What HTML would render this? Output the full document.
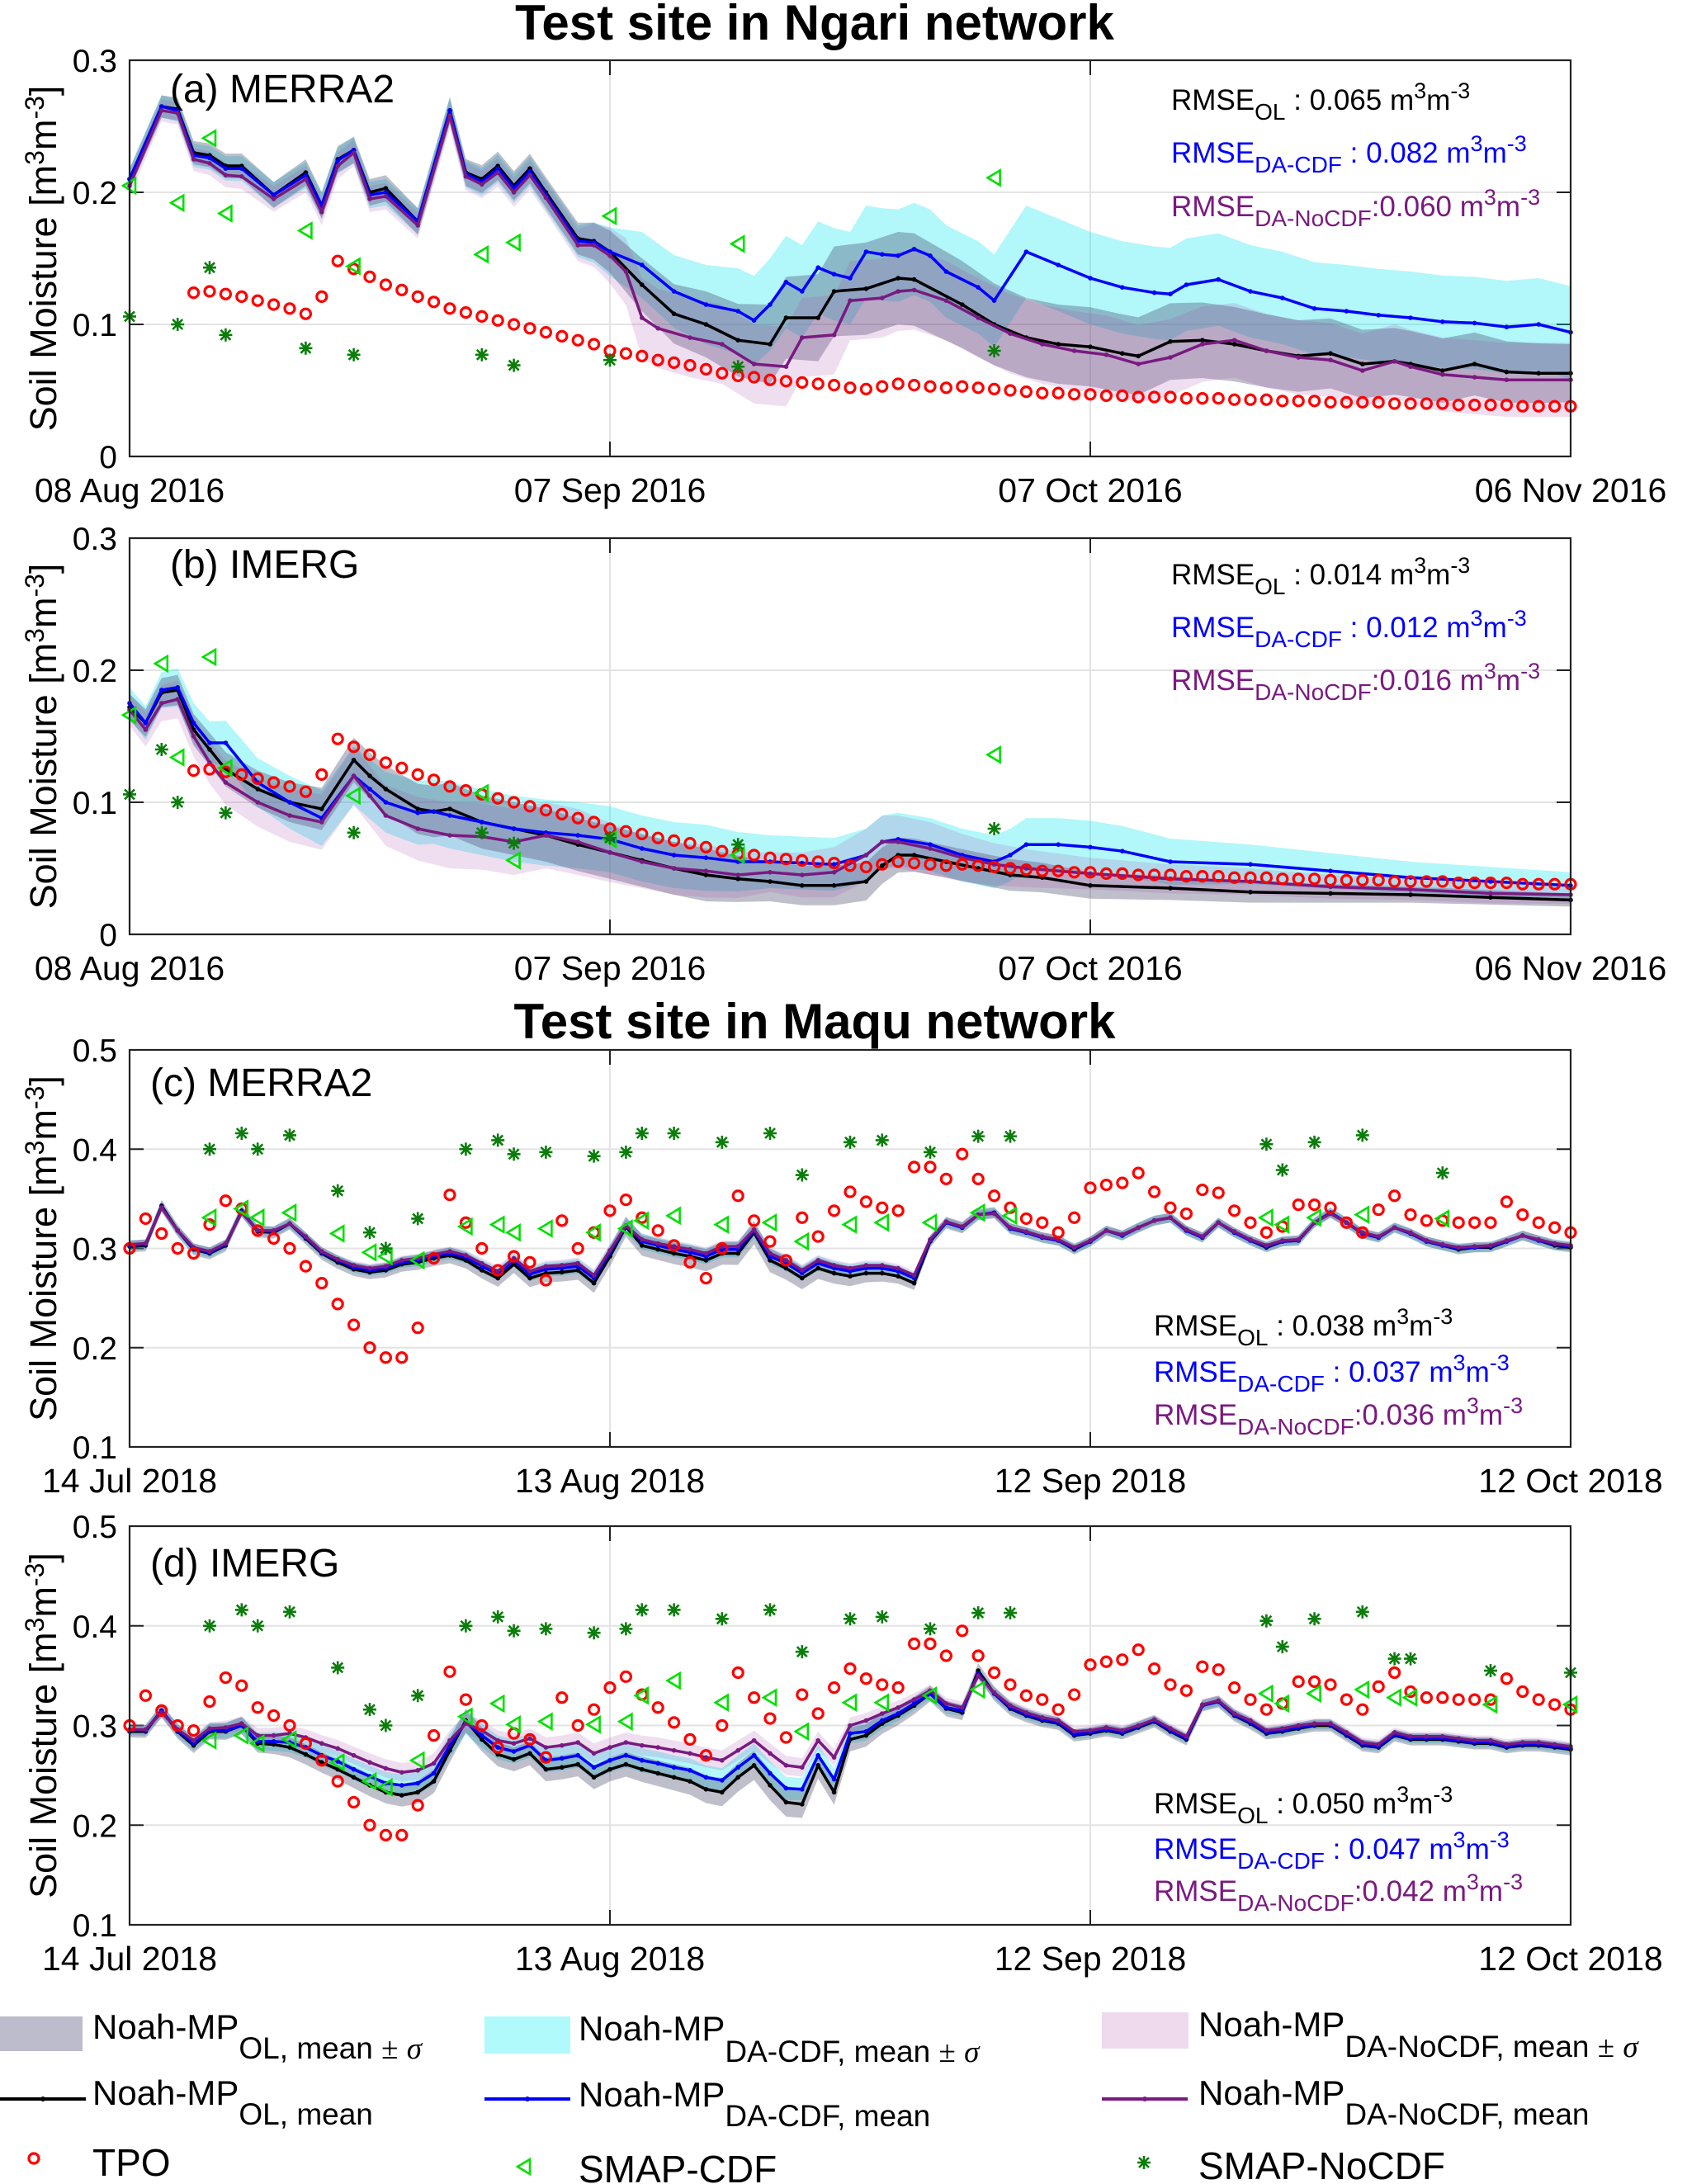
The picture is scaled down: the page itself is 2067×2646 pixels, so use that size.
<!DOCTYPE html>
<html><head><meta charset="utf-8"><style>
html,body{margin:0;padding:0;background:#fff;}
svg{display:block;font-family:"Liberation Sans",sans-serif;}
</style></head><body>
<svg id="fig" width="2067" height="2646" viewBox="0 0 2067 2646" xmlns="http://www.w3.org/2000/svg">
<text x="987" y="48" text-anchor="middle" font-size="60" font-weight="bold">Test site in Ngari network</text>
<text x="987" y="1258" text-anchor="middle" font-size="60" font-weight="bold">Test site in Maqu network</text>
<g id="legend"></g>
</svg>
<script>
// ---------- Ngari data (day index from 08 Aug 2016) ----------
const ngTicks=["08 Aug 2016","07 Sep 2016","07 Oct 2016","06 Nov 2016"];
const mqTicks=["14 Jul 2018","13 Aug 2018","12 Sep 2018","12 Oct 2018"];
const tickDays=[0,30,60,90];
const ngYTicks=[0,0.1,0.2,0.3];
const ngYLabels=["0","0.1","0.2","0.3"];
const mqYTicks=[0.1,0.2,0.3,0.4,0.5];
const mqYLabels=["0.1","0.2","0.3","0.4","0.5"];

const aOLdays=[0,2,3,4,5,6,7,9,11,12,13,14,15,16,18,20,21,22,23,24,25,26,28,29,30,32,34,36,38,40,41,43,44,46,48,49,52,54,56,58,60,62,63,65,67,69,71,73,75,77,79,80,82,84,86,88,90];
const aOL=[.21,.265,.263,.23,.228,.22,.22,.198,.215,.19,.225,.232,.2,.203,.178,.262,.215,.21,.22,.205,.218,.2,.165,.163,.155,.13,.108,.1,.088,.085,.105,.105,.125,.127,.135,.134,.115,.1,.09,.085,.083,.078,.076,.087,.088,.085,.08,.076,.078,.07,.072,.07,.065,.07,.064,.063,.063];
const aDAdays=[0,2,3,4,5,6,7,9,11,12,13,14,15,16,18,20,21,22,23,24,25,26,28,29,30,32,34,36,38,39,40,41,42,43,44,45,46,47,48,49,50,51,53,54,56,58,60,62,64,65,66,68,70,72,74,76,78,80,82,84,86,88,90];
const aDA=[.21,.265,.262,.228,.226,.218,.218,.198,.213,.19,.224,.232,.198,.2,.178,.262,.214,.208,.218,.203,.216,.198,.163,.162,.155,.145,.125,.115,.11,.103,.115,.132,.125,.143,.138,.135,.155,.153,.152,.157,.152,.14,.128,.118,.155,.145,.135,.128,.124,.123,.13,.134,.125,.12,.112,.11,.107,.105,.102,.101,.098,.1,.094];
const aNOdays=[0,2,3,4,5,6,7,9,11,12,13,14,15,16,18,20,21,22,23,24,25,26,28,29,30,31,32,33,35,37,39,41,42,44,45,47,48,49,51,53,55,57,59,61,63,65,67,69,71,73,75,77,79,80,82,84,86,90];
const aNO=[.205,.262,.26,.225,.222,.213,.212,.195,.21,.185,.22,.23,.195,.197,.175,.258,.212,.206,.215,.2,.213,.196,.16,.16,.152,.14,.105,.097,.09,.085,.07,.068,.09,.092,.118,.12,.125,.126,.118,.105,.093,.085,.08,.077,.07,.075,.085,.088,.08,.075,.073,.065,.072,.068,.062,.06,.058,.058];
const ngSigDays=[0,10,20,28,32,36,40,45,50,55,60,70,80,90];
const aOLsig=[.008,.01,.01,.012,.02,.025,.03,.035,.035,.03,.03,.028,.025,.022];
const aDAsig=[.008,.01,.01,.012,.025,.03,.035,.035,.035,.035,.035,.035,.035,.035];
const aNOsig=[.008,.01,.01,.012,.03,.03,.03,.03,.03,.03,.03,.028,.028,.028];

const bOLdays=[0,1,2,3,4,5,6,8,10,12,14,15,16,18,19,20,22,24,26,28,30,32,34,36,38,40,42,44,46,47,48,49,51,53,55,57,60,65,70,75,80,85,90];
const bOL=[.172,.16,.183,.185,.155,.14,.125,.11,.1,.095,.132,.12,.11,.095,.093,.095,.085,.08,.075,.068,.062,.056,.05,.045,.042,.04,.037,.037,.04,.052,.06,.06,.055,.05,.045,.043,.037,.035,.032,.031,.03,.028,.026];
const bDAdays=[0,1,2,3,4,5,6,8,10,12,14,15,16,18,19,20,22,24,26,28,30,32,34,36,38,40,42,44,46,47,48,50,52,54,55,56,58,60,62,65,70,75,80,85,90];
const bDA=[.175,.16,.185,.187,.16,.145,.145,.115,.1,.088,.12,.11,.1,.092,.093,.09,.085,.08,.077,.075,.072,.065,.06,.058,.055,.055,.054,.053,.06,.07,.072,.068,.06,.055,.06,.068,.068,.066,.063,.055,.053,.048,.043,.04,.037];
const bNOdays=[0,1,2,3,4,5,6,8,10,12,14,15,16,18,20,22,24,26,28,30,32,34,36,38,40,42,44,46,47,48,50,52,54,56,60,65,70,75,80,85,90];
const bNO=[.17,.155,.175,.178,.15,.13,.115,.1,.09,.085,.12,.105,.09,.08,.075,.074,.07,.075,.07,.062,.055,.05,.048,.045,.047,.045,.047,.06,.07,.07,.065,.058,.053,.05,.046,.042,.04,.036,.034,.031,.03];
const bOLsig=[.01,.015,.02,.02,.02,.02,.015,.015,.012,.012,.01,.008,.006,.005];
const bDAsig=[.012,.02,.025,.025,.025,.025,.02,.02,.02,.02,.02,.015,.012,.01];
const bNOsig=[.012,.02,.025,.025,.02,.02,.015,.02,.02,.015,.012,.01,.008,.007];

const ngTPOstart=4;
const ngTPO=[.124,.125,.123,.121,.118,.115,.112,.108,.121,.148,.142,.136,.13,.126,.121,.117,.112,.109,.106,.103,.1,.097,.094,.091,.088,.085,.08,.078,.076,.073,.071,.069,.066,.063,.061,.06,.058,.057,.056,.055,.054,.052,.051,.053,.055,.054,.053,.052,.053,.052,.051,.05,.049,.048,.048,.047,.047,.046,.046,.045,.045,.045,.044,.044,.044,.043,.043,.043,.042,.042,.042,.041,.041,.041,.041,.04,.04,.04,.04,.039,.039,.039,.039,.038,.038,.038,.038];
const aCDFdays=[0,3,5,6,11,14,22,24,30,38,54];
const aCDF=[.205,.192,.241,.184,.171,.144,.153,.162,.182,.161,.211];
const aNCdays=[0,3,5,6,11,14,22,24,30,38,54];
const aNC=[.106,.1,.143,.092,.082,.077,.077,.069,.073,.068,.08];
const bCDFdays=[0,2,3,5,6,14,22,24,30,38,54];
const bCDF=[.166,.205,.134,.21,.126,.105,.107,.056,.072,.06,.136];
const bNCdays=[0,2,3,6,14,22,24,30,38,54];
const bNC=[.106,.14,.1,.092,.077,.077,.069,.073,.068,.08];

// ---------- Maqu data (daily, from 14 Jul 2018) ----------
const cOL=[.302,.303,.343,.318,.299,.295,.303,.338,.317,.316,.325,.31,.295,.286,.279,.276,.278,.284,.286,.29,.293,.288,.278,.27,.284,.27,.275,.276,.278,.265,.292,.322,.303,.299,.295,.292,.288,.295,.295,.316,.288,.28,.27,.28,.275,.272,.275,.275,.272,.265,.307,.326,.321,.334,.336,.32,.316,.311,.308,.299,.307,.318,.313,.321,.328,.331,.318,.311,.326,.316,.308,.301,.307,.308,.326,.336,.326,.315,.311,.321,.315,.307,.303,.299,.301,.301,.307,.313,.308,.303,.301];
const cDA=[.303,.304,.342,.318,.3,.296,.304,.337,.318,.317,.325,.311,.296,.288,.281,.278,.28,.286,.288,.292,.295,.291,.282,.274,.288,.274,.279,.28,.282,.27,.296,.323,.307,.303,.299,.296,.292,.299,.299,.318,.292,.285,.275,.285,.28,.277,.28,.28,.277,.27,.308,.326,.321,.334,.336,.32,.316,.311,.308,.3,.307,.318,.313,.321,.328,.331,.318,.311,.326,.316,.308,.302,.307,.308,.326,.336,.326,.315,.311,.321,.315,.307,.303,.3,.301,.302,.307,.313,.308,.304,.302];
const cNO=[.304,.305,.341,.318,.301,.297,.305,.336,.318,.318,.325,.312,.297,.289,.283,.28,.282,.288,.29,.294,.297,.293,.285,.277,.29,.277,.282,.283,.285,.273,.298,.323,.309,.305,.302,.299,.295,.302,.302,.319,.295,.288,.278,.288,.283,.28,.283,.283,.28,.273,.309,.327,.322,.334,.335,.321,.317,.312,.309,.301,.308,.318,.314,.321,.328,.331,.319,.312,.326,.317,.309,.303,.308,.309,.326,.335,.326,.316,.312,.321,.316,.308,.304,.301,.302,.303,.308,.313,.309,.305,.303];
const dOL=[.294,.294,.315,.294,.28,.294,.294,.3,.282,.281,.278,.271,.263,.256,.248,.24,.233,.23,.233,.244,.275,.305,.286,.271,.266,.272,.256,.258,.261,.248,.256,.261,.256,.252,.248,.244,.236,.233,.248,.26,.24,.223,.221,.26,.233,.286,.29,.302,.31,.32,.332,.317,.313,.355,.332,.317,.31,.305,.302,.29,.292,.295,.292,.298,.304,.294,.286,.32,.324,.31,.302,.292,.294,.297,.3,.3,.29,.28,.278,.29,.286,.286,.286,.284,.282,.282,.278,.28,.28,.278,.276];
const dDA=[.295,.295,.315,.295,.282,.295,.295,.3,.284,.284,.283,.278,.27,.264,.256,.249,.242,.24,.242,.252,.28,.303,.29,.278,.274,.28,.265,.267,.27,.258,.265,.27,.265,.262,.258,.255,.248,.245,.258,.27,.252,.237,.236,.27,.246,.292,.294,.305,.312,.322,.332,.318,.315,.352,.332,.318,.311,.306,.303,.291,.293,.296,.293,.299,.305,.295,.287,.32,.324,.311,.303,.293,.295,.298,.301,.301,.291,.281,.279,.291,.287,.287,.287,.285,.283,.283,.279,.281,.281,.279,.277];
const dNO=[.296,.296,.313,.296,.285,.297,.298,.302,.29,.29,.292,.288,.282,.277,.27,.263,.257,.253,.255,.262,.285,.302,.295,.285,.282,.287,.278,.28,.283,.272,.278,.283,.28,.278,.275,.272,.268,.265,.275,.285,.272,.26,.258,.285,.268,.3,.305,.312,.318,.326,.335,.322,.318,.35,.333,.32,.313,.308,.305,.294,.295,.298,.295,.3,.306,.297,.289,.321,.325,.312,.305,.295,.297,.3,.302,.302,.293,.283,.281,.293,.289,.289,.289,.287,.285,.285,.281,.283,.283,.281,.279];
const mqSigDays=[0,10,20,30,40,45,50,60,70,80,90];
const cOLsig=[.006,.006,.008,.01,.012,.01,.006,.005,.005,.005,.005];
const cDAsig=[.005,.005,.006,.008,.008,.007,.005,.005,.005,.005,.005];
const cNOsig=[.004,.004,.005,.006,.006,.005,.004,.004,.004,.004,.004];
const dOLsig=[.006,.01,.012,.012,.015,.012,.008,.006,.006,.006,.006];
const dDAsig=[.005,.01,.012,.012,.012,.01,.006,.005,.005,.005,.005];
const dNOsig=[.005,.008,.01,.01,.01,.008,.006,.005,.005,.005,.005];
const mqTPO=[.30,.33,.315,.3,.295,.324,.348,.34,.318,.31,.3,.282,.265,.244,.223,.2,.19,.19,.22,.29,.354,.326,.3,.278,.292,.286,.268,.328,.3,.316,.338,.349,.331,.318,.303,.286,.27,.3,.353,.328,.307,.288,.331,.312,.338,.357,.347,.341,.338,.382,.382,.37,.395,.37,.353,.341,.33,.326,.316,.331,.361,.364,.366,.376,.357,.341,.335,.359,.356,.338,.326,.316,.322,.344,.344,.341,.326,.316,.339,.353,.334,.328,.328,.326,.326,.326,.347,.334,.326,.321,.316];
const cCDFdays=[5,7,8,10,13,15,16,18,21,23,24,26,29,31,32,34,37,40,42,45,47,50,53,55,71,72,74,77,82];
const cCDF=[.331,.34,.331,.336,.315,.296,.292,.288,.322,.324,.316,.32,.316,.32,.328,.333,.324,.326,.307,.324,.326,.326,.336,.333,.331,.324,.331,.334,.33];
const cNCdays=[5,7,8,10,13,15,16,18,21,23,24,26,29,31,32,34,37,40,42,45,47,50,53,55,71,72,74,77,82];
const cNC=[.4,.416,.4,.414,.358,.316,.3,.33,.4,.409,.395,.397,.393,.397,.416,.416,.407,.416,.374,.407,.409,.397,.413,.413,.405,.379,.407,.414,.376];
const dCDFdays=[5,7,8,10,13,15,16,18,21,23,24,26,29,31,32,34,37,40,42,45,47,50,53,71,72,74,77,79,80,85,90];
const dCDF=[.285,.29,.282,.286,.263,.244,.238,.265,.309,.322,.301,.304,.301,.304,.33,.345,.323,.328,.294,.323,.323,.33,.336,.332,.322,.332,.336,.328,.328,.321,.321];
const dNCdays=[5,7,8,10,13,15,16,18,21,23,24,26,29,31,32,34,37,40,42,45,47,50,53,55,71,72,74,77,79,80,85,90];
const dNC=[.4,.416,.4,.414,.358,.316,.3,.33,.4,.409,.395,.397,.393,.397,.416,.416,.407,.416,.374,.407,.409,.397,.413,.413,.405,.379,.407,.414,.367,.367,.355,.353];

const NS="http://www.w3.org/2000/svg";
const svg=document.getElementById('fig');
function mk(tag,parent,attrs){const e=document.createElementNS(NS,tag);for(const k in attrs)e.setAttribute(k,attrs[k]);parent.appendChild(e);return e;}
function range(n){const r=[];for(let i=0;i<n;i++)r.push(i);return r;}
function interp(xs,ys,x){if(x<=xs[0])return ys[0];for(let i=1;i<xs.length;i++){if(x<=xs[i]){const t=(x-xs[i-1])/(xs[i]-xs[i-1]);return ys[i-1]+t*(ys[i]-ys[i-1]);}}return ys[ys.length-1];}

const X0=157,X1=1903;
function panel(p){
  const g=mk('g',svg,{});
  
  
  const X=d=>X0+(X1-X0)*d/90;
  const Y=v=>p.y1-(p.y1-p.y0)*(v-p.ymin)/(p.ymax-p.ymin);
  p.yt.forEach((v,i)=>{
    if(i>0&&i<p.yt.length-1){const l=mk('line',g,{x1:X0,x2:X1,y1:Y(v),y2:Y(v),stroke:'#e3e3e3','stroke-width':2});
    
    }
    const tl=mk('line',g,{x1:X0,x2:X0+17,y1:Y(v),y2:Y(v),stroke:'#222','stroke-width':2});
    
    
    const tr=mk('line',g,{x1:X1-17,x2:X1,y1:Y(v),y2:Y(v),stroke:'#222','stroke-width':2});
    
    
    const t=mk('text',g,{x:142,y:Y(v)+14,'text-anchor':'end','font-size':39});
    t.textContent=p.yl[i];
    
    
  });
  tickDays.forEach((d,i)=>{
    if(i>0&&i<3){const l=mk('line',g,{x1:X(d),x2:X(d),y1:p.y0,y2:p.y1,stroke:'#e3e3e3','stroke-width':2});
    
    
    const t1=mk('line',g,{x1:X(d),x2:X(d),y1:p.y0,y2:p.y0+18,stroke:'#222','stroke-width':2});
    
    
    const t2=mk('line',g,{x1:X(d),x2:X(d),y1:p.y1-18,y2:p.y1,stroke:'#222','stroke-width':2});
    
    }
    const t=mk('text',g,{x:X(d),y:p.y1+55,'text-anchor':'middle','font-size':41});
    t.textContent=p.xt[i];
    
    
  });
  const band=(days,vals,sd,sig,fill,name)=>{
    const up=[],lo=[];
    days.forEach((d,i)=>{const s=interp(sd,sig,d);up.push(X(d)+','+Y(vals[i]+s));lo.unshift(X(d)+','+Y(vals[i]-s));});
    const e=mk('polygon',g,{points:up.concat(lo).join(' '),fill:fill,stroke:'none'});
    
    
  };
  band(p.da[0],p.da[1],p.sd,p.da[2],'rgba(0,229,238,0.3)','band-da-cdf');
  band(p.ol[0],p.ol[1],p.sd,p.ol[2],'rgba(60,60,100,0.33)','band-ol');
  band(p.no[0],p.no[1],p.sd,p.no[2],'rgba(165,70,165,0.18)','band-da-nocdf');
  const line=(days,vals,col,name)=>{
    const pts=days.map((d,i)=>X(d)+','+Y(vals[i])).join(' ');
    const e=mk('polyline',g,{points:pts,fill:'none',stroke:col,'stroke-width':3.5,'stroke-linejoin':'round'});
    
    
    days.forEach((d,i)=>{const c=mk('circle',g,{cx:X(d),cy:Y(vals[i]),r:2.8,fill:col});
    
    });
  };
  line(p.ol[0],p.ol[1],'#000','line-ol-mean');
  line(p.da[0],p.da[1],'#0000ff','line-da-cdf-mean');
  line(p.no[0],p.no[1],'#7a1a80','line-da-nocdf-mean');
  p.tpo[1].forEach((v,i)=>{const c=mk('circle',g,{cx:X(p.tpo[0]+i),cy:Y(v),r:6,fill:'none',stroke:'#ff0000','stroke-width':3.2});
    
    });
  p.cdf[0].forEach((d,i)=>{const x=X(d),y=Y(p.cdf[1][i]);
    const e=mk('polygon',g,{points:(x-8)+','+y+' '+(x+7)+','+(y-9)+' '+(x+7)+','+(y+9),fill:'none',stroke:'#00e000','stroke-width':2.6});
    
    });
  p.nc[0].forEach((d,i)=>{const x=X(d),y=Y(p.nc[1][i]);
    const e=mk('path',g,{d:`M${x-8} ${y}H${x+8}M${x} ${y-8}V${y+8}M${x-6} ${y-6}L${x+6} ${y+6}M${x-6} ${y+6}L${x+6} ${y-6}`,stroke:'#0a7d0a','stroke-width':2.6,fill:'none'});
    
    });
  const fr=mk('rect',g,{x:X0,y:p.y0,width:X1-X0,height:p.y1-p.y0,fill:'none',stroke:'#222','stroke-width':2.2});
  
  
  const lab=mk('text',g,{x:p.lx,y:p.ly,'font-size':48});
  lab.textContent=p.label;
  
  
  const cy=(p.y0+p.y1)/2;
  const yl=mk('text',g,{x:0,y:0,'font-size':45,'text-anchor':'middle',transform:`translate(68 ${cy}) rotate(-90)`});
  yl.innerHTML='Soil Moisture [m<tspan font-size="32" dy="-15">3</tspan><tspan dy="15">m</tspan><tspan font-size="32" dy="-15">-3</tspan><tspan dy="15">]</tspan>';
  
  
  const cols=['#000','#0000ff','#7a1a80'],subs=['OL','DA-CDF','DA-NoCDF'],sep=[' :  ',' :  ',':'];
  p.rm.forEach((v,i)=>{
    const t=mk('text',g,{x:p.rx,y:p.ry[i],'font-size':35,fill:cols[i]});
    t.innerHTML=`RMSE<tspan font-size="28" dy="12">${subs[i]}</tspan><tspan dy="-12">${sep[i]}${v} m</tspan><tspan font-size="27" dy="-14">3</tspan><tspan dy="14">m</tspan><tspan font-size="27" dy="-14">-3</tspan>`;
    
    
  });
}
const daily=range(91);
panel({id:'a',y0:73,y1:553,ymin:0,ymax:0.3,yt:ngYTicks,yl:ngYLabels,xt:ngTicks,sd:ngSigDays,
  ol:[aOLdays,aOL,aOLsig],da:[aDAdays,aDA,aDAsig],no:[aNOdays,aNO,aNOsig],tpo:[ngTPOstart,ngTPO],
  cdf:[aCDFdays,aCDF],nc:[aNCdays,aNC],label:'(a) MERRA2',lx:206,ly:124,rx:1419,ry:[133,197,262],rm:['0.065','0.082','0.060']});
panel({id:'b',y0:652,y1:1132,ymin:0,ymax:0.3,yt:ngYTicks,yl:ngYLabels,xt:ngTicks,sd:ngSigDays,
  ol:[bOLdays,bOL,bOLsig],da:[bDAdays,bDA,bDAsig],no:[bNOdays,bNO,bNOsig],tpo:[ngTPOstart,ngTPO],
  cdf:[bCDFdays,bCDF],nc:[bNCdays,bNC],label:'(b) IMERG',lx:206,ly:700,rx:1419,ry:[708,772,836],rm:['0.014','0.012','0.016']});
panel({id:'c',y0:1272,y1:1753,ymin:0.1,ymax:0.5,yt:mqYTicks,yl:mqYLabels,xt:mqTicks,sd:mqSigDays,
  ol:[daily,cOL,cOLsig],da:[daily,cDA,cDAsig],no:[daily,cNO,cNOsig],tpo:[0,mqTPO],
  cdf:[cCDFdays,cCDF],nc:[cNCdays,cNC],label:'(c) MERRA2',lx:182,ly:1328,rx:1398,ry:[1618,1674,1726],rm:['0.038','0.037','0.036']});
panel({id:'d',y0:1849,y1:2332,ymin:0.1,ymax:0.5,yt:mqYTicks,yl:mqYLabels,xt:mqTicks,sd:mqSigDays,
  ol:[daily,dOL,dOLsig],da:[daily,dDA,dDAsig],no:[daily,dNO,dNOsig],tpo:[0,mqTPO],
  cdf:[dCDFdays,dCDF],nc:[dNCdays,dNC],label:'(d) IMERG',lx:182,ly:1910,rx:1398,ry:[2197,2252,2303],rm:['0.050','0.047','0.042']});

// legend
const L=document.getElementById('legend');
function ltext(x,y,sub,yOff){const t=mk('text',L,{x:x,y:y,'font-size':42});
  t.innerHTML=`Noah-MP<tspan font-size="37" dy="${yOff}">${sub}</tspan>`;return t;}
let e;
e=mk('rect',L,{x:0,y:2443,width:100,height:42,fill:'rgb(188,188,204)'});


e=mk('rect',L,{x:587,y:2443,width:104,height:45,fill:'rgb(176,250,252)'});


e=mk('rect',L,{x:1335,y:2438,width:105,height:44,fill:'rgb(238,218,236)'});


e=ltext(112,2470,'OL, mean <tspan font-family="Liberation Serif">±</tspan> <tspan font-family="Liberation Serif" font-style="italic">σ</tspan>',24);


e=ltext(701,2472,'DA-CDF, mean <tspan font-family="Liberation Serif">±</tspan> <tspan font-family="Liberation Serif" font-style="italic">σ</tspan>',26);


e=ltext(1452,2467,'DA-NoCDF, mean <tspan font-family="Liberation Serif">±</tspan> <tspan font-family="Liberation Serif" font-style="italic">σ</tspan>',25);


[[0,'#000',112,2550,'OL, mean','legend-ol-mean'],[587,'#0000ff',701,2552,'DA-CDF, mean','legend-da-cdf-mean'],[1335,'#7a1a80',1452,2550,'DA-NoCDF, mean','legend-da-nocdf-mean']].forEach(r=>{
  const l=mk('line',L,{x1:r[0],x2:r[0]+104,y1:2543,y2:2543,stroke:r[1],'stroke-width':4});
  
  
  const c=mk('circle',L,{cx:r[0]+52,cy:2543,r:3,fill:r[1]});
  
  
  const t=ltext(r[2],r[3],r[4],24);
  
  
});
e=mk('circle',L,{cx:41,cy:2615,r:6,fill:'none',stroke:'#ff0000','stroke-width':3.2});


e=mk('text',L,{x:112,y:2636,'font-size':46});
e.textContent='TPO';


e=mk('polygon',L,{points:'627,2625 642,2616 642,2634',fill:'none',stroke:'#00e000','stroke-width':2.6});


e=mk('text',L,{x:701,y:2644,'font-size':46});
e.textContent='SMAP-CDF';


e=mk('path',L,{d:'M1378 2620H1394M1386 2612V2628M1380 2614L1392 2626M1380 2626L1392 2614',stroke:'#0a7d0a','stroke-width':2.6});


e=mk('text',L,{x:1452,y:2640,'font-size':46});
e.textContent='SMAP-NoCDF';


</script>
</body></html>
